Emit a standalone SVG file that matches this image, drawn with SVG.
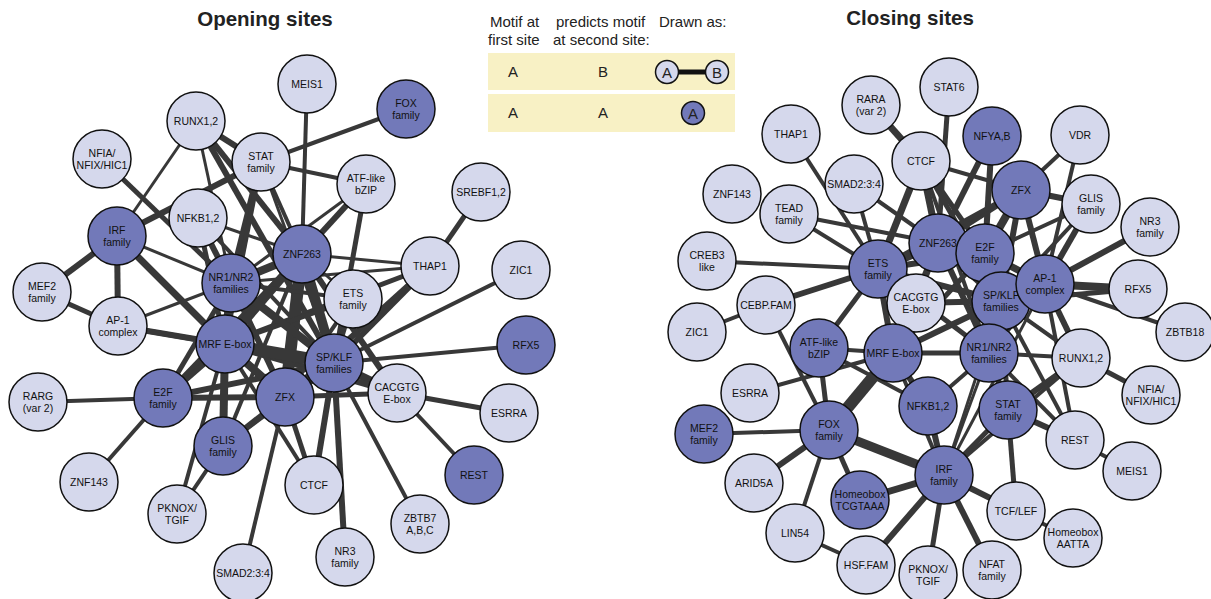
<svg xmlns="http://www.w3.org/2000/svg" width="1211" height="599" viewBox="0 0 1211 599">
<style>
.e line{stroke:#383838;stroke-linecap:butt}
.nl{fill:#d5d8ec;stroke:#111;stroke-width:1.5}
.nd{fill:#7279b9;stroke:#111;stroke-width:1.5}
.t{font-family:"Liberation Sans",Arial,sans-serif;font-size:10.5px;fill:#111;text-anchor:middle}
.h{font-family:"Liberation Sans",Arial,sans-serif;font-size:20.5px;font-weight:bold;fill:#222;text-anchor:middle}
.lg{font-family:"Liberation Sans",Arial,sans-serif;font-size:15px;fill:#222}
.lb{fill:#f8f1c5}
</style>
<rect width="1211" height="599" fill="#fff"/>
<text class="h" x="265" y="26">Opening sites</text>
<text class="h" x="910" y="25">Closing sites</text>
<g id="legend">
<text class="lg" x="490" y="27">Motif at</text>
<text class="lg" x="488" y="45">first site</text>
<text class="lg" x="556" y="27">predicts motif</text>
<text class="lg" x="553" y="45">at second site:</text>
<text class="lg" x="659" y="27">Drawn as:</text>
<rect class="lb" x="488" y="53" width="247" height="37"/>
<rect class="lb" x="488" y="94" width="247" height="38"/>
<text class="lg" x="513" y="77" text-anchor="middle">A</text>
<text class="lg" x="603" y="77" text-anchor="middle">B</text>
<line x1="678" y1="72" x2="706" y2="72" stroke="#111" stroke-width="5"/>
<circle class="nl" cx="667" cy="72" r="11.5"/>
<circle class="nl" cx="717" cy="72" r="11.5"/>
<text class="lg" x="667" y="77.5" text-anchor="middle">A</text>
<text class="lg" x="717" y="77.5" text-anchor="middle">B</text>
<text class="lg" x="513" y="118" text-anchor="middle">A</text>
<text class="lg" x="603" y="118" text-anchor="middle">A</text>
<circle class="nd" cx="693" cy="113" r="11.5"/>
<text class="lg" x="693" y="118.5" text-anchor="middle">A</text>
</g>
<g id="edges-opening" class="e">
<line x1="307" y1="84" x2="302" y2="254" stroke-width="4"/>
<line x1="406" y1="109" x2="261" y2="162" stroke-width="4"/>
<line x1="196" y1="121" x2="117" y2="236" stroke-width="3"/>
<line x1="196" y1="121" x2="261" y2="162" stroke-width="6"/>
<line x1="196" y1="121" x2="302" y2="254" stroke-width="6"/>
<line x1="196" y1="121" x2="334" y2="363" stroke-width="6"/>
<line x1="196" y1="121" x2="231" y2="283" stroke-width="3"/>
<line x1="102" y1="159" x2="231" y2="283" stroke-width="5"/>
<line x1="117" y1="236" x2="261" y2="162" stroke-width="6"/>
<line x1="117" y1="236" x2="42" y2="292" stroke-width="6"/>
<line x1="117" y1="236" x2="118" y2="326" stroke-width="6"/>
<line x1="117" y1="236" x2="231" y2="283" stroke-width="3"/>
<line x1="117" y1="236" x2="225" y2="344" stroke-width="7"/>
<line x1="198" y1="218" x2="302" y2="254" stroke-width="3"/>
<line x1="198" y1="218" x2="231" y2="283" stroke-width="6"/>
<line x1="198" y1="218" x2="225" y2="344" stroke-width="5"/>
<line x1="198" y1="218" x2="334" y2="363" stroke-width="4"/>
<line x1="261" y1="162" x2="231" y2="283" stroke-width="7"/>
<line x1="261" y1="162" x2="302" y2="254" stroke-width="4"/>
<line x1="261" y1="162" x2="334" y2="363" stroke-width="3"/>
<line x1="261" y1="162" x2="225" y2="344" stroke-width="5"/>
<line x1="261" y1="162" x2="366" y2="184" stroke-width="4"/>
<line x1="366" y1="184" x2="302" y2="254" stroke-width="6"/>
<line x1="366" y1="184" x2="231" y2="283" stroke-width="3"/>
<line x1="366" y1="184" x2="334" y2="363" stroke-width="5"/>
<line x1="481" y1="192" x2="430" y2="266" stroke-width="5"/>
<line x1="430" y1="266" x2="302" y2="254" stroke-width="3"/>
<line x1="430" y1="266" x2="231" y2="283" stroke-width="3"/>
<line x1="430" y1="266" x2="334" y2="363" stroke-width="6"/>
<line x1="430" y1="266" x2="285" y2="397" stroke-width="6"/>
<line x1="430" y1="266" x2="225" y2="344" stroke-width="5"/>
<line x1="521" y1="270" x2="334" y2="363" stroke-width="4"/>
<line x1="526" y1="345" x2="334" y2="363" stroke-width="4"/>
<line x1="397" y1="393" x2="509" y2="413" stroke-width="5"/>
<line x1="397" y1="393" x2="474" y2="475" stroke-width="4"/>
<line x1="397" y1="393" x2="334" y2="363" stroke-width="8"/>
<line x1="397" y1="393" x2="285" y2="397" stroke-width="5"/>
<line x1="397" y1="393" x2="302" y2="254" stroke-width="6"/>
<line x1="397" y1="393" x2="225" y2="344" stroke-width="6"/>
<line x1="420" y1="524" x2="334" y2="363" stroke-width="4"/>
<line x1="345" y1="557" x2="334" y2="363" stroke-width="6"/>
<line x1="314" y1="485" x2="334" y2="363" stroke-width="6"/>
<line x1="314" y1="485" x2="285" y2="397" stroke-width="5"/>
<line x1="314" y1="485" x2="225" y2="344" stroke-width="4"/>
<line x1="243" y1="573" x2="285" y2="397" stroke-width="4"/>
<line x1="177" y1="514" x2="225" y2="344" stroke-width="4"/>
<line x1="177" y1="514" x2="223" y2="446" stroke-width="4"/>
<line x1="89" y1="482" x2="163" y2="398" stroke-width="4"/>
<line x1="38" y1="402" x2="163" y2="398" stroke-width="4"/>
<line x1="42" y1="292" x2="118" y2="326" stroke-width="5"/>
<line x1="118" y1="326" x2="231" y2="283" stroke-width="3"/>
<line x1="118" y1="326" x2="225" y2="344" stroke-width="6"/>
<line x1="118" y1="326" x2="334" y2="363" stroke-width="5"/>
<line x1="163" y1="398" x2="225" y2="344" stroke-width="8"/>
<line x1="163" y1="398" x2="285" y2="397" stroke-width="6"/>
<line x1="163" y1="398" x2="334" y2="363" stroke-width="6"/>
<line x1="163" y1="398" x2="231" y2="283" stroke-width="5"/>
<line x1="163" y1="398" x2="302" y2="254" stroke-width="5"/>
<line x1="223" y1="446" x2="225" y2="344" stroke-width="8"/>
<line x1="223" y1="446" x2="285" y2="397" stroke-width="6"/>
<line x1="223" y1="446" x2="334" y2="363" stroke-width="5"/>
<line x1="223" y1="446" x2="302" y2="254" stroke-width="4"/>
<line x1="285" y1="397" x2="334" y2="363" stroke-width="10"/>
<line x1="285" y1="397" x2="225" y2="344" stroke-width="8"/>
<line x1="285" y1="397" x2="302" y2="254" stroke-width="12"/>
<line x1="285" y1="397" x2="231" y2="283" stroke-width="6"/>
<line x1="225" y1="344" x2="231" y2="283" stroke-width="8"/>
<line x1="225" y1="344" x2="302" y2="254" stroke-width="9"/>
<line x1="225" y1="344" x2="334" y2="363" stroke-width="12"/>
<line x1="225" y1="344" x2="353" y2="299" stroke-width="5"/>
<line x1="231" y1="283" x2="302" y2="254" stroke-width="8"/>
<line x1="231" y1="283" x2="334" y2="363" stroke-width="8"/>
<line x1="231" y1="283" x2="353" y2="299" stroke-width="4"/>
<line x1="302" y1="254" x2="334" y2="363" stroke-width="10"/>
<line x1="302" y1="254" x2="353" y2="299" stroke-width="3"/>
<line x1="353" y1="299" x2="334" y2="363" stroke-width="5"/>
<line x1="353" y1="299" x2="285" y2="397" stroke-width="4"/>
</g>
<g id="edges-closing" class="e">
<line x1="949" y1="87" x2="938" y2="243" stroke-width="5"/>
<line x1="871" y1="105" x2="921" y2="161" stroke-width="7"/>
<line x1="791" y1="134" x2="878" y2="269" stroke-width="4"/>
<line x1="854" y1="184" x2="878" y2="269" stroke-width="4"/>
<line x1="854" y1="184" x2="938" y2="243" stroke-width="4"/>
<line x1="789" y1="214" x2="878" y2="269" stroke-width="4"/>
<line x1="789" y1="214" x2="938" y2="243" stroke-width="4"/>
<line x1="707" y1="261" x2="878" y2="269" stroke-width="4"/>
<line x1="921" y1="161" x2="938" y2="243" stroke-width="7"/>
<line x1="921" y1="161" x2="878" y2="269" stroke-width="7"/>
<line x1="921" y1="161" x2="985" y2="253" stroke-width="5"/>
<line x1="921" y1="161" x2="1001" y2="301" stroke-width="5"/>
<line x1="921" y1="161" x2="1021" y2="190" stroke-width="4"/>
<line x1="921" y1="161" x2="989" y2="353" stroke-width="4"/>
<line x1="992" y1="136" x2="938" y2="243" stroke-width="6"/>
<line x1="992" y1="136" x2="985" y2="253" stroke-width="6"/>
<line x1="1080" y1="135" x2="1021" y2="190" stroke-width="4"/>
<line x1="1080" y1="135" x2="1045" y2="284" stroke-width="4"/>
<line x1="1021" y1="190" x2="1091" y2="204" stroke-width="6"/>
<line x1="1021" y1="190" x2="985" y2="253" stroke-width="8"/>
<line x1="1021" y1="190" x2="938" y2="243" stroke-width="6"/>
<line x1="1021" y1="190" x2="1001" y2="301" stroke-width="6"/>
<line x1="1021" y1="190" x2="1045" y2="284" stroke-width="6"/>
<line x1="1021" y1="190" x2="878" y2="269" stroke-width="5"/>
<line x1="1091" y1="204" x2="1045" y2="284" stroke-width="6"/>
<line x1="1091" y1="204" x2="985" y2="253" stroke-width="4"/>
<line x1="1091" y1="204" x2="1001" y2="301" stroke-width="4"/>
<line x1="1150" y1="227" x2="1045" y2="284" stroke-width="6"/>
<line x1="1138" y1="289" x2="1045" y2="284" stroke-width="8"/>
<line x1="1138" y1="289" x2="1001" y2="301" stroke-width="5"/>
<line x1="1185" y1="332" x2="1045" y2="284" stroke-width="4"/>
<line x1="1081" y1="358" x2="989" y2="353" stroke-width="4"/>
<line x1="1081" y1="358" x2="1045" y2="284" stroke-width="6"/>
<line x1="1081" y1="358" x2="1008" y2="410" stroke-width="6"/>
<line x1="1081" y1="358" x2="1151" y2="395" stroke-width="5"/>
<line x1="1081" y1="358" x2="1001" y2="301" stroke-width="4"/>
<line x1="1081" y1="358" x2="944" y2="475" stroke-width="4"/>
<line x1="1075" y1="440" x2="1132" y2="471" stroke-width="4"/>
<line x1="1075" y1="440" x2="1008" y2="410" stroke-width="6"/>
<line x1="1075" y1="440" x2="989" y2="353" stroke-width="4"/>
<line x1="1075" y1="440" x2="1001" y2="301" stroke-width="4"/>
<line x1="1075" y1="440" x2="1045" y2="284" stroke-width="4"/>
<line x1="1016" y1="511" x2="1008" y2="410" stroke-width="5"/>
<line x1="1016" y1="511" x2="944" y2="475" stroke-width="6"/>
<line x1="1016" y1="511" x2="1073" y2="538" stroke-width="4"/>
<line x1="944" y1="475" x2="992" y2="570" stroke-width="6"/>
<line x1="944" y1="475" x2="928" y2="575" stroke-width="5"/>
<line x1="944" y1="475" x2="866" y2="565" stroke-width="6"/>
<line x1="944" y1="475" x2="860" y2="500" stroke-width="7"/>
<line x1="944" y1="475" x2="829" y2="430" stroke-width="9"/>
<line x1="944" y1="475" x2="928" y2="406" stroke-width="6"/>
<line x1="944" y1="475" x2="1008" y2="410" stroke-width="5"/>
<line x1="944" y1="475" x2="989" y2="353" stroke-width="3"/>
<line x1="944" y1="475" x2="1001" y2="301" stroke-width="3"/>
<line x1="944" y1="475" x2="1045" y2="284" stroke-width="3"/>
<line x1="944" y1="475" x2="893" y2="353" stroke-width="4"/>
<line x1="829" y1="430" x2="704" y2="434" stroke-width="4"/>
<line x1="829" y1="430" x2="754" y2="483" stroke-width="6"/>
<line x1="829" y1="430" x2="795" y2="533" stroke-width="4"/>
<line x1="829" y1="430" x2="860" y2="500" stroke-width="5"/>
<line x1="829" y1="430" x2="893" y2="353" stroke-width="12"/>
<line x1="829" y1="430" x2="819" y2="348" stroke-width="5"/>
<line x1="829" y1="430" x2="766" y2="305" stroke-width="4"/>
<line x1="750" y1="393" x2="893" y2="353" stroke-width="4"/>
<line x1="795" y1="533" x2="866" y2="565" stroke-width="4"/>
<line x1="766" y1="305" x2="697" y2="332" stroke-width="4"/>
<line x1="766" y1="305" x2="878" y2="269" stroke-width="6"/>
<line x1="819" y1="348" x2="878" y2="269" stroke-width="5"/>
<line x1="819" y1="348" x2="928" y2="406" stroke-width="4"/>
<line x1="819" y1="348" x2="893" y2="353" stroke-width="4"/>
<line x1="893" y1="353" x2="878" y2="269" stroke-width="6"/>
<line x1="893" y1="353" x2="989" y2="353" stroke-width="5"/>
<line x1="893" y1="353" x2="928" y2="406" stroke-width="6"/>
<line x1="893" y1="353" x2="916" y2="303" stroke-width="5"/>
<line x1="893" y1="353" x2="1001" y2="301" stroke-width="6"/>
<line x1="893" y1="353" x2="938" y2="243" stroke-width="6"/>
<line x1="893" y1="353" x2="985" y2="253" stroke-width="5"/>
<line x1="928" y1="406" x2="989" y2="353" stroke-width="4"/>
<line x1="1008" y1="410" x2="989" y2="353" stroke-width="6"/>
<line x1="1008" y1="410" x2="1001" y2="301" stroke-width="5"/>
<line x1="989" y1="353" x2="1001" y2="301" stroke-width="7"/>
<line x1="989" y1="353" x2="938" y2="243" stroke-width="6"/>
<line x1="989" y1="353" x2="878" y2="269" stroke-width="5"/>
<line x1="989" y1="353" x2="985" y2="253" stroke-width="5"/>
<line x1="989" y1="353" x2="1045" y2="284" stroke-width="5"/>
<line x1="878" y1="269" x2="938" y2="243" stroke-width="9"/>
<line x1="878" y1="269" x2="985" y2="253" stroke-width="6"/>
<line x1="878" y1="269" x2="1001" y2="301" stroke-width="6"/>
<line x1="878" y1="269" x2="916" y2="303" stroke-width="6"/>
<line x1="985" y1="253" x2="1001" y2="301" stroke-width="8"/>
<line x1="985" y1="253" x2="1045" y2="284" stroke-width="7"/>
<line x1="938" y1="243" x2="1001" y2="301" stroke-width="8"/>
<line x1="938" y1="243" x2="985" y2="253" stroke-width="8"/>
<line x1="938" y1="243" x2="916" y2="303" stroke-width="6"/>
<line x1="916" y1="303" x2="1001" y2="301" stroke-width="6"/>
<line x1="1001" y1="301" x2="1045" y2="284" stroke-width="8"/>
</g>
<g id="L-MEIS1"><circle class="nl" cx="307" cy="84" r="29"/><text class="t" x="307" y="88">MEIS1</text></g>
<g id="L-FOX"><circle class="nd" cx="406" cy="109" r="29"/><text class="t" x="406" y="107">FOX</text><text class="t" x="406" y="119">family</text></g>
<g id="L-RUNX"><circle class="nl" cx="196" cy="121" r="29"/><text class="t" x="196" y="125">RUNX1,2</text></g>
<g id="L-NFIA"><circle class="nl" cx="102" cy="159" r="29"/><text class="t" x="102" y="157">NFIA/</text><text class="t" x="102" y="169">NFIX/HIC1</text></g>
<g id="L-STAT"><circle class="nl" cx="261" cy="162" r="29"/><text class="t" x="261" y="160">STAT</text><text class="t" x="261" y="172">family</text></g>
<g id="L-ATF"><circle class="nl" cx="366" cy="184" r="29"/><text class="t" x="366" y="182">ATF-like</text><text class="t" x="366" y="194">bZIP</text></g>
<g id="L-SREBF"><circle class="nl" cx="481" cy="192" r="29"/><text class="t" x="481" y="196">SREBF1,2</text></g>
<g id="L-NFKB"><circle class="nl" cx="198" cy="218" r="29"/><text class="t" x="198" y="222">NFKB1,2</text></g>
<g id="L-IRF"><circle class="nd" cx="117" cy="236" r="29"/><text class="t" x="117" y="234">IRF</text><text class="t" x="117" y="246">family</text></g>
<g id="L-ZNF263"><circle class="nd" cx="302" cy="254" r="29"/><text class="t" x="302" y="258">ZNF263</text></g>
<g id="L-THAP1"><circle class="nl" cx="430" cy="266" r="29"/><text class="t" x="430" y="270">THAP1</text></g>
<g id="L-ZIC1"><circle class="nl" cx="521" cy="270" r="29"/><text class="t" x="521" y="274">ZIC1</text></g>
<g id="L-MEF2"><circle class="nl" cx="42" cy="292" r="29"/><text class="t" x="42" y="290">MEF2</text><text class="t" x="42" y="302">family</text></g>
<g id="L-NR1"><circle class="nd" cx="231" cy="283" r="29"/><text class="t" x="231" y="281">NR1/NR2</text><text class="t" x="231" y="293">families</text></g>
<g id="L-ETS"><circle class="nl" cx="353" cy="299" r="29"/><text class="t" x="353" y="297">ETS</text><text class="t" x="353" y="309">family</text></g>
<g id="L-AP1"><circle class="nl" cx="118" cy="326" r="29"/><text class="t" x="118" y="324">AP-1</text><text class="t" x="118" y="336">complex</text></g>
<g id="L-MRF"><circle class="nd" cx="225" cy="344" r="29"/><text class="t" x="225" y="348">MRF E-box</text></g>
<g id="L-SPKLF"><circle class="nd" cx="334" cy="363" r="29"/><text class="t" x="334" y="361">SP/KLF</text><text class="t" x="334" y="373">families</text></g>
<g id="L-RFX5"><circle class="nd" cx="526" cy="345" r="29"/><text class="t" x="526" y="349">RFX5</text></g>
<g id="L-CACGTG"><circle class="nl" cx="397" cy="393" r="29"/><text class="t" x="397" y="391">CACGTG</text><text class="t" x="397" y="403">E-box</text></g>
<g id="L-RARG"><circle class="nl" cx="38" cy="402" r="29"/><text class="t" x="38" y="400">RARG</text><text class="t" x="38" y="412">(var 2)</text></g>
<g id="L-E2F"><circle class="nd" cx="163" cy="398" r="29"/><text class="t" x="163" y="396">E2F</text><text class="t" x="163" y="408">family</text></g>
<g id="L-ZFX"><circle class="nd" cx="285" cy="397" r="29"/><text class="t" x="285" y="401">ZFX</text></g>
<g id="L-ESRRA"><circle class="nl" cx="509" cy="413" r="29"/><text class="t" x="509" y="417">ESRRA</text></g>
<g id="L-GLIS"><circle class="nd" cx="223" cy="446" r="29"/><text class="t" x="223" y="444">GLIS</text><text class="t" x="223" y="456">family</text></g>
<g id="L-REST"><circle class="nd" cx="474" cy="475" r="29"/><text class="t" x="474" y="479">REST</text></g>
<g id="L-ZNF143"><circle class="nl" cx="89" cy="482" r="29"/><text class="t" x="89" y="486">ZNF143</text></g>
<g id="L-CTCF"><circle class="nl" cx="314" cy="485" r="29"/><text class="t" x="314" y="489">CTCF</text></g>
<g id="L-PKNOX"><circle class="nl" cx="177" cy="514" r="29"/><text class="t" x="177" y="512">PKNOX/</text><text class="t" x="177" y="524">TGIF</text></g>
<g id="L-ZBTB7"><circle class="nl" cx="420" cy="524" r="29"/><text class="t" x="420" y="522">ZBTB7</text><text class="t" x="420" y="534">A,B,C</text></g>
<g id="L-NR3"><circle class="nl" cx="345" cy="557" r="29"/><text class="t" x="345" y="555">NR3</text><text class="t" x="345" y="567">family</text></g>
<g id="L-SMAD"><circle class="nl" cx="243" cy="573" r="29"/><text class="t" x="243" y="577">SMAD2:3:4</text></g>
<g id="R-STAT6"><circle class="nl" cx="949" cy="87" r="29"/><text class="t" x="949" y="91">STAT6</text></g>
<g id="R-RARA"><circle class="nl" cx="871" cy="105" r="29"/><text class="t" x="871" y="103">RARA</text><text class="t" x="871" y="115">(var 2)</text></g>
<g id="R-NFYA"><circle class="nd" cx="992" cy="136" r="29"/><text class="t" x="992" y="140">NFYA,B</text></g>
<g id="R-VDR"><circle class="nl" cx="1080" cy="135" r="29"/><text class="t" x="1080" y="139">VDR</text></g>
<g id="R-THAP1"><circle class="nl" cx="791" cy="134" r="29"/><text class="t" x="791" y="138">THAP1</text></g>
<g id="R-CTCF"><circle class="nl" cx="921" cy="161" r="29"/><text class="t" x="921" y="165">CTCF</text></g>
<g id="R-SMAD"><circle class="nl" cx="854" cy="184" r="29"/><text class="t" x="854" y="188">SMAD2:3:4</text></g>
<g id="R-ZFX"><circle class="nd" cx="1021" cy="190" r="29"/><text class="t" x="1021" y="194">ZFX</text></g>
<g id="R-GLIS"><circle class="nl" cx="1091" cy="204" r="29"/><text class="t" x="1091" y="202">GLIS</text><text class="t" x="1091" y="214">family</text></g>
<g id="R-ZNF143"><circle class="nl" cx="732" cy="194" r="29"/><text class="t" x="732" y="198">ZNF143</text></g>
<g id="R-TEAD"><circle class="nl" cx="789" cy="214" r="29"/><text class="t" x="789" y="212">TEAD</text><text class="t" x="789" y="224">family</text></g>
<g id="R-NR3"><circle class="nl" cx="1150" cy="227" r="29"/><text class="t" x="1150" y="225">NR3</text><text class="t" x="1150" y="237">family</text></g>
<g id="R-CREB3"><circle class="nl" cx="707" cy="261" r="29"/><text class="t" x="707" y="259">CREB3</text><text class="t" x="707" y="271">like</text></g>
<g id="R-ETS"><circle class="nd" cx="878" cy="269" r="29"/><text class="t" x="878" y="267">ETS</text><text class="t" x="878" y="279">family</text></g>
<g id="R-CACGTG"><circle class="nl" cx="916" cy="303" r="29"/><text class="t" x="916" y="301">CACGTG</text><text class="t" x="916" y="313">E-box</text></g>
<g id="R-ZNF263"><circle class="nd" cx="938" cy="243" r="29"/><text class="t" x="938" y="247">ZNF263</text></g>
<g id="R-E2F"><circle class="nd" cx="985" cy="253" r="29"/><text class="t" x="985" y="251">E2F</text><text class="t" x="985" y="263">family</text></g>
<g id="R-SPKLF"><circle class="nd" cx="1001" cy="301" r="29"/><text class="t" x="1001" y="299">SP/KLF</text><text class="t" x="1001" y="311">families</text></g>
<g id="R-AP1"><circle class="nd" cx="1045" cy="284" r="29"/><text class="t" x="1045" y="282">AP-1</text><text class="t" x="1045" y="294">complex</text></g>
<g id="R-RFX5"><circle class="nl" cx="1138" cy="289" r="29"/><text class="t" x="1138" y="293">RFX5</text></g>
<g id="R-ZBTB18"><circle class="nl" cx="1185" cy="332" r="29"/><text class="t" x="1185" y="336">ZBTB18</text></g>
<g id="R-CEBP"><circle class="nl" cx="766" cy="305" r="29"/><text class="t" x="766" y="309">CEBP.FAM</text></g>
<g id="R-ZIC1"><circle class="nl" cx="697" cy="332" r="29"/><text class="t" x="697" y="336">ZIC1</text></g>
<g id="R-ATF"><circle class="nd" cx="819" cy="348" r="29"/><text class="t" x="819" y="346">ATF-like</text><text class="t" x="819" y="358">bZIP</text></g>
<g id="R-MRF"><circle class="nd" cx="893" cy="353" r="29"/><text class="t" x="893" y="357">MRF E-box</text></g>
<g id="R-NR1"><circle class="nd" cx="989" cy="353" r="29"/><text class="t" x="989" y="351">NR1/NR2</text><text class="t" x="989" y="363">families</text></g>
<g id="R-RUNX"><circle class="nl" cx="1081" cy="358" r="29"/><text class="t" x="1081" y="362">RUNX1,2</text></g>
<g id="R-ESRRA"><circle class="nl" cx="750" cy="393" r="29"/><text class="t" x="750" y="397">ESRRA</text></g>
<g id="R-NFIA"><circle class="nl" cx="1151" cy="395" r="29"/><text class="t" x="1151" y="393">NFIA/</text><text class="t" x="1151" y="405">NFIX/HIC1</text></g>
<g id="R-NFKB"><circle class="nd" cx="928" cy="406" r="29"/><text class="t" x="928" y="410">NFKB1,2</text></g>
<g id="R-STAT"><circle class="nd" cx="1008" cy="410" r="29"/><text class="t" x="1008" y="408">STAT</text><text class="t" x="1008" y="420">family</text></g>
<g id="R-REST"><circle class="nl" cx="1075" cy="440" r="29"/><text class="t" x="1075" y="444">REST</text></g>
<g id="R-MEF2"><circle class="nd" cx="704" cy="434" r="29"/><text class="t" x="704" y="432">MEF2</text><text class="t" x="704" y="444">family</text></g>
<g id="R-FOX"><circle class="nd" cx="829" cy="430" r="29"/><text class="t" x="829" y="428">FOX</text><text class="t" x="829" y="440">family</text></g>
<g id="R-MEIS1"><circle class="nl" cx="1132" cy="471" r="29"/><text class="t" x="1132" y="475">MEIS1</text></g>
<g id="R-IRF"><circle class="nd" cx="944" cy="475" r="29"/><text class="t" x="944" y="473">IRF</text><text class="t" x="944" y="485">family</text></g>
<g id="R-ARID5A"><circle class="nl" cx="754" cy="483" r="29"/><text class="t" x="754" y="487">ARID5A</text></g>
<g id="R-HOXT"><circle class="nd" cx="860" cy="500" r="29"/><text class="t" x="860" y="498">Homeobox</text><text class="t" x="860" y="510">TCGTAAA</text></g>
<g id="R-TCF"><circle class="nl" cx="1016" cy="511" r="29"/><text class="t" x="1016" y="515">TCF/LEF</text></g>
<g id="R-HOXA"><circle class="nl" cx="1073" cy="538" r="29"/><text class="t" x="1073" y="536">Homeobox</text><text class="t" x="1073" y="548">AATTA</text></g>
<g id="R-LIN54"><circle class="nl" cx="795" cy="533" r="29"/><text class="t" x="795" y="537">LIN54</text></g>
<g id="R-HSF"><circle class="nl" cx="866" cy="565" r="29"/><text class="t" x="866" y="569">HSF.FAM</text></g>
<g id="R-PKNOX"><circle class="nl" cx="928" cy="575" r="29"/><text class="t" x="928" y="573">PKNOX/</text><text class="t" x="928" y="585">TGIF</text></g>
<g id="R-NFAT"><circle class="nl" cx="992" cy="570" r="29"/><text class="t" x="992" y="568">NFAT</text><text class="t" x="992" y="580">family</text></g>
</svg>
